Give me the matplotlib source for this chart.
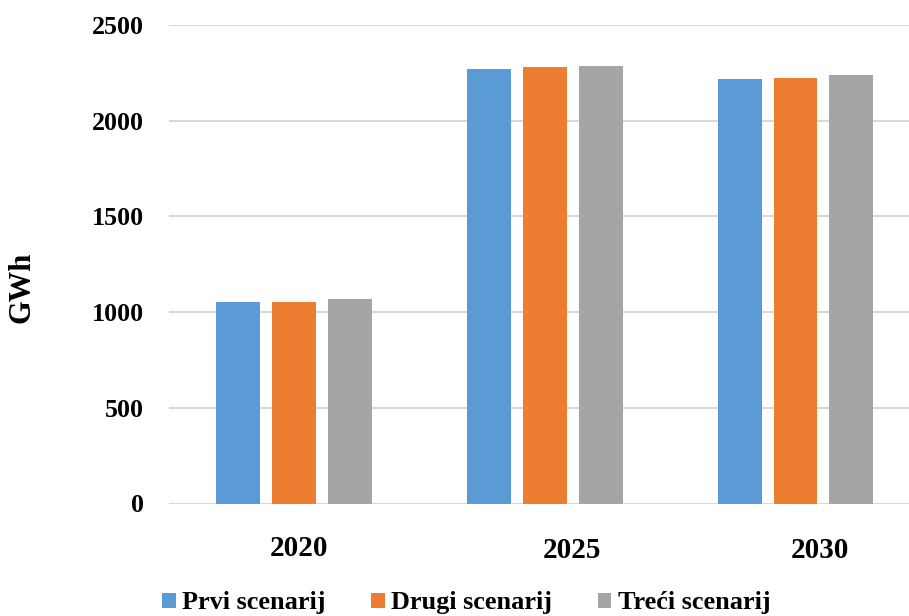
import matplotlib
matplotlib.use("Agg")
import matplotlib.pyplot as plt
import matplotlib.transforms as mtransforms
from matplotlib.patches import Patch
import numpy as np

categories = ["2020", "2025", "2030"]
series_names = ["Prvi scenarij", "Drugi scenarij", "Treći scenarij"]
prvi = [1052, 2270, 2219]
drugi = [1052, 2280, 2223]
treci = [1067, 2286, 2237]
colors = ["#5B9BD5", "#ED7D31", "#A5A5A5"]
yticks = [0, 500, 1000, 1500, 2000, 2500]

plt.rcParams['font.family'] = ['Liberation Serif', 'DejaVu Serif']
plt.rcParams['font.weight'] = 'bold'
FS = 18.7
FSX = 21
FSL = 18.9

W, H = 909, 616
fig = plt.figure(figsize=(W / 100, H / 100), dpi=100)
ax = fig.add_axes([168.5 / W, (H - 503.5) / H, (W - 168.5) / W, (503.5 - 25) / H])

x = np.arange(len(categories))
bw = 0.175
off = 0.223
for i, (vals, c) in enumerate(zip([prvi, drugi, treci], colors)):
    ax.bar(x + (i - 1) * off, vals, width=bw, color=c, zorder=3, linewidth=0)

ax.set_xlim(-0.5, (W - 293.9) / 250.8)
ax.set_ylim(0, 2500)
ax.set_yticks(yticks)
ax.yaxis.grid(True, color="#D9D9D9", linewidth=1.5, zorder=0)
ax.set_axisbelow(True)
for s in ax.spines.values():
    s.set_visible(False)
ax.tick_params(axis='y', length=0, pad=17.5, labelsize=FS)
ax.set_yticklabels([str(v) for v in yticks], fontweight='bold')

ax.set_xticks(x)
ax.set_xticklabels(categories, fontweight='bold', fontsize=FSX, va='center')
ax.tick_params(axis='x', length=0, pad=0)
dxs = [5, 27, 24]
dys = [-44.5, -46.5, -46.5]
for lab, dx, dy in zip(ax.get_xticklabels(), dxs, dys):
    lab.set_transform(lab.get_transform() + mtransforms.ScaledTranslation(dx / 100, dy / 100, fig.dpi_scale_trans))

fig.text(22 / W, 1 - 287 / H, "GWh", rotation=90, ha='center', va='center',
         fontsize=22, fontweight='bold')

handles = [Patch(facecolor=c, edgecolor='none') for c in colors]
fig.legend(handles, series_names, loc='center', bbox_to_anchor=(0.513, 1 - 603 / H),
           ncol=3, frameon=False, handlelength=0.5, handleheight=0.5,
           handletextpad=0.25, columnspacing=1.75, borderpad=0,
           prop={'weight': 'bold', 'size': FSL})

fig.savefig("out.png", dpi=100)
